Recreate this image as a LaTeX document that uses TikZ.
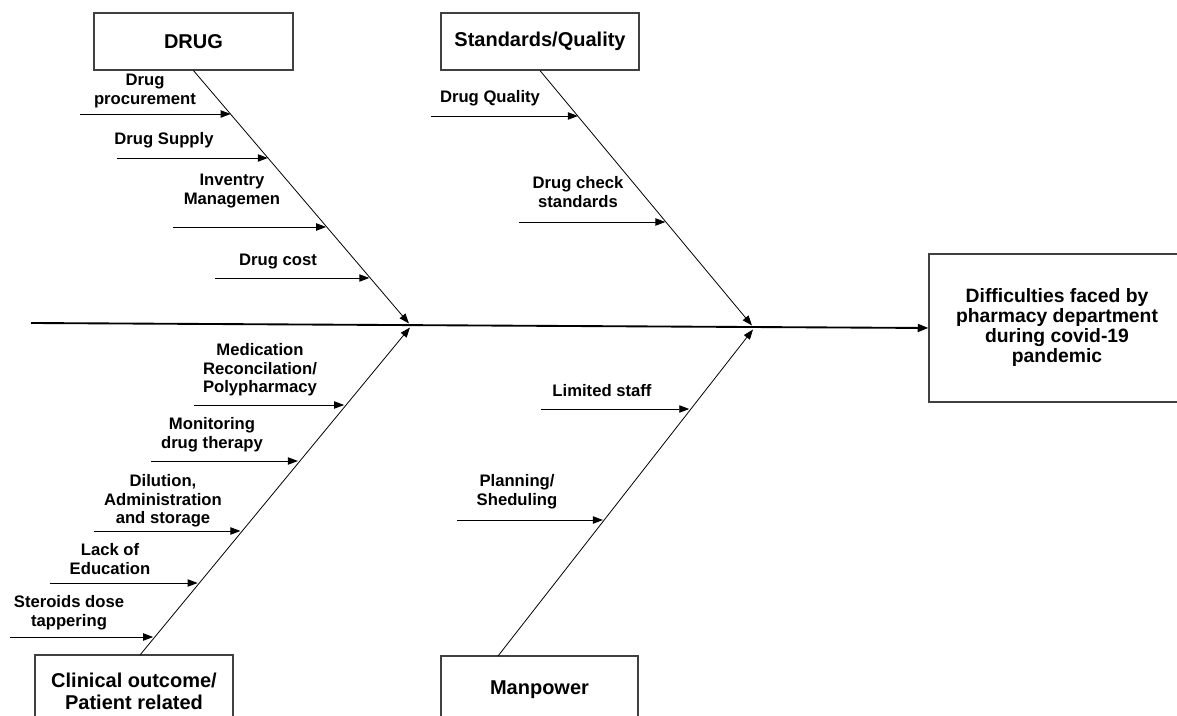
\documentclass[tikz,border=0pt]{standalone}
\usepackage{fontspec}
\setmainfont{Liberation Sans}
\usetikzlibrary{arrows.meta,calc}
\begin{document}
\begin{tikzpicture}[x=0.75pt,y=-0.75pt,
  box/.style={draw=black!75,line width=0.9pt,minimum width=149pt,minimum height=43pt,inner sep=0pt,
    font=\fontsize{15}{16.5}\selectfont\bfseries,align=center},
  lbl/.style={font=\fontsize{12.5}{14}\selectfont\bfseries,align=center,inner sep=0pt},
  bone/.style={line width=0.6pt,-{Triangle[length=7.5pt,width=5.5pt]}},
  sub/.style={line width=0.7pt,-{Triangle[length=7.5pt,width=5.5pt]}},
  spine/.style={line width=1.4pt,-{Triangle[length=8pt,width=6pt]}}]
\useasboundingbox (0,0) rectangle (1177,716);
\clip (0,0) rectangle (1177,716);

% category boxes
\node[box,minimum width=149.25pt,minimum height=42.75pt] (drug) at (193.5,41.5) {DRUG};
\node[box,minimum width=148.5pt,minimum height=42.75pt] (std) at (540,41.5) {Standards/Quality};
\node[box,minimum width=148.5pt,minimum height=54pt] (clin) at (134,691) {Clinical outcome/\\Patient related};
\node[box,minimum width=147.75pt,minimum height=51pt] (man) at (539.5,690) {Manpower};
\node[box,minimum width=192pt,minimum height=111pt,font=\fontsize{14.5}{15}\selectfont\bfseries] (eff) at (1057,328)
  {Difficulties faced by\\pharmacy department\\during covid-19\\pandemic};

% spine
\coordinate (sp) at (31,323);
\draw[spine] (sp) -- (eff.west);

% junctions
\coordinate (j1a) at (409,323.5);
\coordinate (j1b) at (410,327.5);
\coordinate (j2a) at (752,325.5);
\coordinate (j2b) at (753,329.5);
\coordinate (cb) at (140,655);
\coordinate (mb) at (498,656);

% main bones
\draw[bone] (drug.south) -- (j1a);
\draw[bone] (std.south) -- (j2a);
\draw[bone] (cb) -- (j1b);
\draw[bone] (mb) -- (j2b);

% points on bones
\path (drug.south) -- (j1a) coordinate[pos=.1725] (d1) coordinate[pos=.345] (d2)
  coordinate[pos=.6157] (d3) coordinate[pos=.8157] (d4);
\path (std.south) -- (j2a) coordinate[pos=.179] (q1) coordinate[pos=.5914] (q2);
\path (cb) -- (j1b) coordinate[pos=.756] (c1) coordinate[pos=.585] (c2)
  coordinate[pos=.372] (c3) coordinate[pos=.2134] (c4) coordinate[pos=.0488] (c5);
\path (mb) -- (j2b) coordinate[pos=.75] (m1) coordinate[pos=.4116] (m2);

% sub-cause arrow starts
\coordinate (ds1) at (80,114);
\coordinate (ds2) at (117,158);
\coordinate (ds3) at (173,227);
\coordinate (ds4) at (215,278);
\coordinate (qs1) at (431,116);
\coordinate (qs2) at (519,222);
\coordinate (cs1) at (194,405);
\coordinate (cs2) at (151,461);
\coordinate (cs3) at (94,531);
\coordinate (cs4) at (50,583);
\coordinate (cs5) at (10,637);
\coordinate (ms1) at (541,409);
\coordinate (ms2) at (457,520);

\draw[sub] (ds1) -- (ds1 -| d1);
\draw[sub] (ds2) -- (ds2 -| d2);
\draw[sub] (ds3) -- (ds3 -| d3);
\draw[sub] (ds4) -- (ds4 -| d4);
\draw[sub] (qs1) -- (qs1 -| q1);
\draw[sub] (qs2) -- (qs2 -| q2);
\draw[sub] (cs1) -- (cs1 -| c1);
\draw[sub] (cs2) -- (cs2 -| c2);
\draw[sub] (cs3) -- (cs3 -| c3);
\draw[sub] (cs4) -- (cs4 -| c4);
\draw[sub] (cs5) -- (cs5 -| c5);
\draw[sub] (ms1) -- (ms1 -| m1);
\draw[sub] (ms2) -- (ms2 -| m2);

% labels
\node[lbl] (l1) at (145,91) {Drug\\procurement};
\node[lbl] (l2) at (164,140) {Drug Supply};
\node[lbl] (l3) at (232,191) {Inventry\\Managemen};
\node[lbl] (l4) at (278,262) {Drug cost};
\node[lbl] (l5) at (490,98) {Drug Quality};
\node[lbl] (l6) at (578,192) {Drug check\\standards};
\node[lbl] (l7) at (260,370) {Medication\\Reconcilation/\\Polypharmacy};
\node[lbl] (l8) at (212,435) {Monitoring\\drug therapy};
\node[lbl] (l9) at (163,501) {Dilution,\\Administration\\and storage};
\node[lbl] (l10) at (110,559) {Lack of\\Education};
\node[lbl] (l11) at (69,613) {Steroids dose\\tappering};
\node[lbl] (l12) at (602,391) {Limited staff};
\node[lbl] (l13) at (517,492) {Planning/\\Sheduling};
\end{tikzpicture}
\end{document}
